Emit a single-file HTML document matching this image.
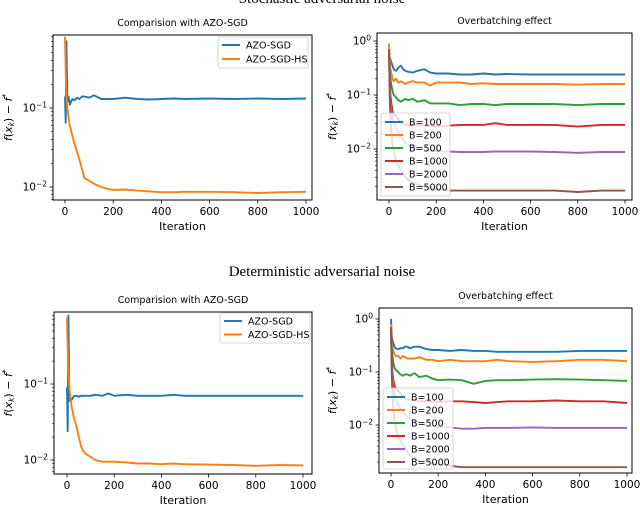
<!DOCTYPE html>
<html><head><meta charset="utf-8"><style>
html,body{margin:0;padding:0;background:#fff;}
svg{display:block;font-family:"DejaVu Sans","Liberation Sans",sans-serif;}
</style></head><body>
<svg id="fig" width="640" height="509" viewBox="0 0 640 509" xmlns="http://www.w3.org/2000/svg">
<text x="322" y="3" text-anchor="middle" font-family="Liberation Serif, serif" font-size="15">Stochastic adversarial noise</text>
<text x="322" y="276" text-anchor="middle" font-family="Liberation Serif, serif" font-size="15">Deterministic adversarial noise</text>
</svg>
<script>
const iters=[0,3,6,10,15,20,30,40,50,60,70,80,100,120,150,175,200,250,300,350,400,450,500,600,700,800,900,1000];
const xTicks=[0,200,400,600,800,1000];
const cmpLabels=["AZO-SGD","AZO-SGD-HS"];
const batchLabels=["B=100","B=200","B=500","B=1000","B=2000","B=5000"];
const colors=["#1f77b4","#ff7f0e","#2ca02c","#d62728","#9467bd","#8c564b"];
// top-left
const s1Blue=[0.14,0.065,0.7,0.12,0.14,0.11,0.13,0.125,0.135,0.13,0.14,0.14,0.135,0.145,0.13,0.13,0.13,0.135,0.13,0.128,0.13,0.132,0.13,0.132,0.13,0.132,0.13,0.132];
const s1Orange=[0.8,0.3,0.15,0.1,0.075,0.06,0.045,0.035,0.028,0.022,0.017,0.013,0.012,0.011,0.01,0.0095,0.0092,0.0093,0.009,0.0088,0.0086,0.0086,0.0087,0.0087,0.0086,0.0084,0.0086,0.0087];
// top-right
const s2B100=[0.6,0.5,0.45,0.4,0.35,0.3,0.28,0.32,0.35,0.3,0.28,0.27,0.26,0.28,0.3,0.26,0.25,0.25,0.24,0.24,0.25,0.24,0.245,0.24,0.24,0.24,0.24,0.24];
const s2B200=[0.9,0.5,0.3,0.25,0.2,0.18,0.2,0.17,0.18,0.17,0.16,0.17,0.18,0.17,0.17,0.15,0.17,0.17,0.17,0.16,0.165,0.16,0.16,0.16,0.16,0.155,0.16,0.16];
const s2B500=[0.7,0.3,0.2,0.15,0.12,0.1,0.09,0.08,0.075,0.08,0.085,0.08,0.085,0.075,0.08,0.07,0.07,0.07,0.065,0.068,0.068,0.065,0.068,0.068,0.068,0.065,0.068,0.068];
const s2B1000=[0.7,0.2,0.1,0.07,0.05,0.045,0.04,0.035,0.032,0.03,0.028,0.028,0.028,0.028,0.027,0.027,0.026,0.027,0.028,0.028,0.028,0.03,0.028,0.028,0.028,0.026,0.028,0.028];
const s2B2000=[0.7,0.15,0.07,0.05,0.04,0.03,0.025,0.02,0.017,0.015,0.013,0.012,0.011,0.01,0.0098,0.0095,0.0092,0.009,0.0088,0.0088,0.0088,0.009,0.009,0.009,0.0088,0.0085,0.0088,0.0088];
const s2B5000=[0.7,0.1,0.04,0.02,0.012,0.009,0.006,0.005,0.004,0.0035,0.003,0.0027,0.0024,0.0022,0.002,0.0019,0.0018,0.0017,0.0017,0.0017,0.0017,0.0017,0.0017,0.0017,0.0017,0.0016,0.0017,0.0017];
// bottom-left
const s3Blue=[0.09,0.024,0.8,0.06,0.065,0.062,0.07,0.07,0.068,0.07,0.07,0.07,0.07,0.072,0.07,0.075,0.07,0.072,0.07,0.07,0.07,0.072,0.07,0.07,0.07,0.07,0.07,0.07];
const s3Orange=[0.75,0.3,0.15,0.09,0.065,0.05,0.035,0.028,0.02,0.015,0.013,0.012,0.011,0.01,0.0095,0.0095,0.0095,0.0093,0.009,0.009,0.0088,0.009,0.0088,0.0087,0.0086,0.0084,0.0086,0.0085];
// bottom-right
const s4B100=[1.0,0.5,0.4,0.35,0.3,0.28,0.27,0.28,0.28,0.3,0.3,0.28,0.3,0.3,0.27,0.26,0.26,0.25,0.26,0.25,0.25,0.24,0.24,0.24,0.24,0.25,0.25,0.25];
const s4B200=[0.8,0.4,0.3,0.25,0.22,0.2,0.2,0.18,0.2,0.19,0.18,0.18,0.18,0.19,0.17,0.17,0.16,0.17,0.16,0.16,0.16,0.17,0.16,0.155,0.16,0.17,0.17,0.16];
const s4B500=[0.7,0.3,0.2,0.15,0.12,0.11,0.1,0.09,0.085,0.09,0.09,0.085,0.095,0.08,0.085,0.075,0.07,0.072,0.07,0.06,0.068,0.07,0.07,0.072,0.073,0.072,0.07,0.068];
const s4B1000=[0.7,0.2,0.1,0.07,0.055,0.05,0.045,0.04,0.035,0.032,0.03,0.03,0.03,0.028,0.028,0.028,0.027,0.028,0.028,0.027,0.026,0.027,0.028,0.028,0.029,0.028,0.028,0.026];
const s4B2000=[0.7,0.15,0.08,0.05,0.04,0.03,0.025,0.02,0.018,0.016,0.014,0.013,0.012,0.011,0.01,0.0095,0.0092,0.009,0.0085,0.0085,0.0088,0.0088,0.0088,0.009,0.0088,0.0088,0.0088,0.0088];
const s4B5000=[0.7,0.1,0.04,0.02,0.012,0.009,0.006,0.005,0.0042,0.0036,0.003,0.0027,0.0024,0.0021,0.002,0.0019,0.0018,0.0017,0.0016,0.0016,0.0016,0.0016,0.0016,0.0016,0.0016,0.0016,0.0016,0.0016];

const NS="http://www.w3.org/2000/svg";
const svg=document.getElementById('fig');
function mk(tag,attrs,parent){const e=document.createElementNS(NS,tag);for(const k in attrs)e.setAttribute(k,attrs[k]);(parent||svg).appendChild(e);return e;}

function panel(p){
  const g=mk('g',{});
  
  
  const xs=v=>p.x0+(v/1000)*(p.x1-p.x0);
  const ys=v=>p.yr-(Math.log10(v)-p.r)*p.dec;
  const clip='clip-'+p.name;
  const cp=mk('clipPath',{id:clip},g);mk('rect',{x:p.L,y:p.T,width:p.R-p.L,height:p.B-p.T},cp);
  p.series.forEach((s,i)=>{
    let d='';s.forEach((v,j)=>{d+=(j?'L':'M')+xs(iters[j]).toFixed(1)+','+ys(v).toFixed(1);});
    const pa=mk('path',{d:d,fill:'none',stroke:colors[i],'stroke-width':1.9,'clip-path':'url(#'+clip+')','stroke-linejoin':'round'},g);
    
    
  });
  const fr=mk('rect',{x:p.L,y:p.T,width:p.R-p.L,height:p.B-p.T,fill:'none',stroke:'#000','stroke-width':1},g);
  
  
  xTicks.forEach(t=>{
    const x=xs(t);
    mk('line',{x1:x,x2:x,y1:p.B,y2:p.B+3.5,stroke:'#000','stroke-width':0.8},g);
    const tx=mk('text',{x:x,y:p.B+15,'text-anchor':'middle','font-size':10.5},g);tx.textContent=t;
    
    
  });
  const lo=p.r-(p.B-p.yr)/p.dec, hi=p.r+(p.yr-p.T)/p.dec;
  for(let k=Math.floor(lo);k<=Math.ceil(hi);k++){
    for(let m=1;m<10;m++){
      const v=m*Math.pow(10,k);const lv=Math.log10(v);
      if(lv<lo-1e-6||lv>hi+1e-6)continue;
      const y=ys(v);
      mk('line',{x1:p.L,x2:p.L-(m==1?3.5:2),y1:y,y2:y,stroke:'#000','stroke-width':m==1?0.8:0.6},g);
      if(m==1){
        const tx=mk('text',{x:p.L-6,y:y+3.5,'text-anchor':'end','font-size':10.5},g);
        
        
        const a=mk('tspan',{},tx);a.textContent='10';
        const b=mk('tspan',{dy:-4,'font-size':7.5},tx);b.textContent=(k<0?'\u2212':'')+Math.abs(k);
      }
    }
  }
  const ti=mk('text',{x:(p.L+p.R)/2,y:p.T-9,'text-anchor':'middle','font-size':9.5},g);ti.textContent=p.title;
  
  
  const xl=mk('text',{x:(p.L+p.R)/2,y:p.B+30,'text-anchor':'middle','font-size':11},g);xl.textContent='Iteration';
  
  
  const cy=(p.T+p.B)/2;
  const yl=mk('text',{x:p.yl,y:cy,'text-anchor':'middle','font-size':11,transform:'rotate(-90 '+p.yl+' '+cy+')'},g);
  
  
  const t1=mk('tspan',{'font-style':'italic'},yl);t1.textContent='f';
  const t2=mk('tspan',{},yl);t2.textContent='(';
  const t3=mk('tspan',{'font-style':'italic'},yl);t3.textContent='x';
  const t4=mk('tspan',{'font-size':7.5,dy:2,'font-style':'italic'},yl);t4.textContent='k';
  const t5=mk('tspan',{dy:-2},yl);t5.textContent=') \u2212 ';
  const t6=mk('tspan',{'font-style':'italic'},yl);t6.textContent='f';
  const t7=mk('tspan',{'font-size':7.5,dy:-4},yl);t7.textContent='*';
  const lg=p.leg;
  const lb=mk('g',{},g);
  
  
  mk('rect',{x:lg.x,y:lg.y,width:lg.w,height:lg.h,fill:'#fff','fill-opacity':0.8,stroke:'#ccc','stroke-width':0.8,rx:2},lb);
  p.labels.forEach((l,i)=>{
    const y=lg.y+lg.pad+i*lg.step;
    const e=mk('g',{},lb);
    
    
    mk('line',{x1:lg.x+4,x2:lg.x+22,y1:y,y2:y,stroke:colors[i],'stroke-width':1.9},e);
    const tx=mk('text',{x:lg.x+28,y:y+3.4,'font-size':9.5},e);tx.textContent=l;
  });
}
panel({name:'top-left-comparison',L:53,R:312,T:35,B:200,x0:65,x1:306,r:-1,yr:108,dec:79,yl:12,title:'Comparision with AZO-SGD',series:[s1Blue,s1Orange],labels:cmpLabels,leg:{x:218,y:37,w:90,h:31,pad:8,step:14}});
panel({name:'top-right-overbatching',L:377,R:632,T:33,B:200,x0:389,x1:625,r:0,yr:41,dec:54,yl:336,title:'Overbatching effect',series:[s2B100,s2B200,s2B500,s2B1000,s2B2000,s2B5000],labels:batchLabels,leg:{x:381,y:113,w:69,h:83,pad:9,step:13}});
panel({name:'bottom-left-comparison',L:54,R:312,T:312,B:474,x0:67,x1:303,r:-1,yr:384,dec:76,yl:12,title:'Comparision with AZO-SGD',series:[s3Blue,s3Orange],labels:cmpLabels,leg:{x:220,y:313,w:90,h:30,pad:8,step:13.5}});
panel({name:'bottom-right-overbatching',L:379,R:632,T:308,B:473,x0:391,x1:627,r:0,yr:319,dec:53,yl:336,title:'Overbatching effect',series:[s4B100,s4B200,s4B500,s4B1000,s4B2000,s4B5000],labels:batchLabels,leg:{x:383,y:388,w:70,h:81,pad:9,step:13}});
</script>
</body></html>
